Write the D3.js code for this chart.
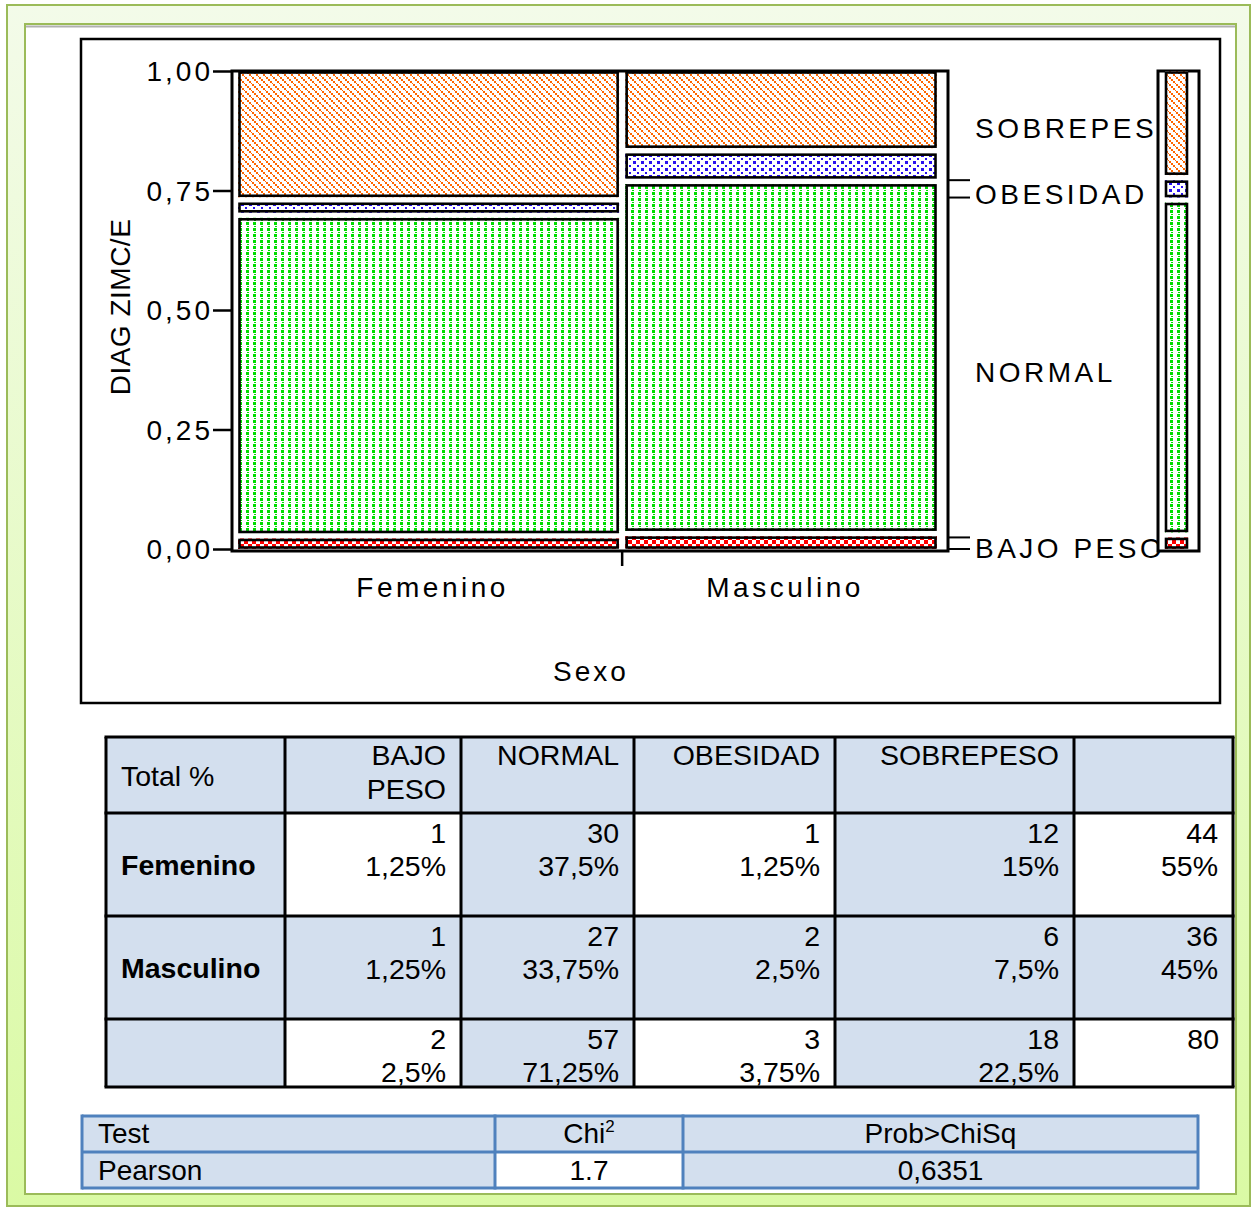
<!DOCTYPE html>
<html>
<head>
<meta charset="utf-8">
<script src="https://cdn.jsdelivr.net/npm/d3@7"></script>
<style>
  html, body { margin: 0; padding: 0; background: #fff; }
  svg { display: block; font-family: "Liberation Sans", Arial, sans-serif; }
</style>
</head>
<body>
<div id="chart"></div>
<script>
// ── datos ───────────────────────────────────────────────────────────────
const sexos        = ['Femenino', 'Masculino'];
const diagnosticos = ['BAJO PESO', 'NORMAL', 'OBESIDAD', 'SOBREPESO'];
const conteosFemenino  = [1, 30, 1, 12];
const conteosMasculino = [1, 27, 2, 6];
const yTickValues = [0, 0.25, 0.5, 0.75, 1];
const yTickLabels = ['0,00', '0,25', '0,50', '0,75', '1,00'];
const tests       = ['Pearson'];
const chiCuadrado = ['1.7'];
const probChiSq   = ['0,6351'];

const conteos = [conteosFemenino, conteosMasculino];
const totalesSexo = conteos.map(c => d3.sum(c));
const totalesDiag = diagnosticos.map((d, i) => conteos[0][i] + conteos[1][i]);
const granTotal = d3.sum(totalesSexo);
const pct = v => (Math.round(v / granTotal * 10000) / 100).toString().replace('.', ',') + '%';

const width = 1254, height = 1209;

// ── svg ─────────────────────────────────────────────────────────────────
const svg = d3.select('#chart').append('svg')
  .attr('width', width).attr('height', height)
  .attr('viewBox', [0, 0, width, height]);

const defs = svg.append('defs');

const grad = defs.append('linearGradient').attr('id', 'bg').attr('x1', 0).attr('y1', 0).attr('x2', 0).attr('y2', 1);
grad.append('stop').attr('offset', '0%').attr('stop-color', '#f3fbe9');
grad.append('stop').attr('offset', '100%').attr('stop-color', '#dafaa4');

// patrones de relleno (cuadritos, estilo mapa de bits)
function pattern(id, w, h, color, rects) {
  const p = defs.append('pattern').attr('id', id)
    .attr('patternUnits', 'userSpaceOnUse').attr('width', w).attr('height', h);
  p.append('rect').attr('width', w).attr('height', h).attr('fill', '#fff');
  rects.forEach(r => p.append('rect')
    .attr('x', r[0]).attr('y', r[1]).attr('width', r[2]).attr('height', r[3])
    .attr('fill', color).attr('shape-rendering', 'crispEdges'));
}
// diagonal "\" en escalones de 2px, separación 7px
pattern('p-sobrepeso', 7, 7, '#ff6600', [[0, 0, 2, 2], [2, 2, 2, 2], [4, 4, 2, 2], [6, 6, 1, 1]]);
pattern('p-obesidad', 8, 7, '#2a10f0', [[1, 0, 3, 3], [5, 4, 2, 2]]);
pattern('p-normal', 7, 6, '#00dd00', [[1, 0, 3, 3], [2, 4, 2, 1]]);
pattern('p-bajo', 8, 8, '#ff0000', [[0, 0, 4, 4], [4, 4, 4, 4]]);
const patternId = { 'BAJO PESO': 'p-bajo', 'NORMAL': 'p-normal', 'OBESIDAD': 'p-obesidad', 'SOBREPESO': 'p-sobrepeso' };

// fondo y marcos
svg.append('rect').attr('x', 7).attr('y', 5).attr('width', 1243).attr('height', 1201)
  .attr('fill', 'url(#bg)').attr('stroke', '#9bbb59').attr('stroke-width', 2);
svg.append('rect').attr('x', 25).attr('y', 24).attr('width', 1211).attr('height', 1170)
  .attr('fill', '#fff').attr('stroke', '#9bbb59').attr('stroke-width', 2);
svg.append('line').attr('x1', 26).attr('x2', 1235).attr('y1', 26.5).attr('y2', 26.5)
  .attr('stroke', '#b0b0b0').attr('stroke-width', 2);

svg.append('rect').attr('x', 81).attr('y', 39).attr('width', 1139).attr('height', 664)
  .attr('fill', '#fff').attr('stroke', '#000').attr('stroke-width', 2.5);

// ── mosaico ─────────────────────────────────────────────────────────────
const plotLeft = 232, plotRight = 948, plotTop = 71, plotBottom = 551;
const y = d3.scaleLinear().domain([0, 1]).range([549, 71]);
const gapY = 5, gapX = 6;
const avail = d3.scaleLinear().domain([0, 1]).range([0, (y(0) - y(1)) - 3 * gapY]);
const x = d3.scaleLinear().domain([0, 1]).range([238, 937 - gapX]);

function stackSegments(counts) {
  const tot = d3.sum(counts);
  let cum = 0;
  return counts.map((c, i) => {
    const f = c / tot;
    const y1 = y(0) - avail(cum) - i * gapY;
    const y0 = y1 - avail(f);
    cum += f;
    return { diag: diagnosticos[i], y0, y1 };
  });
}

const mosaic = svg.append('g').attr('id', 'mosaico');
let cumX = 0;
sexos.forEach((s, si) => {
  const share = totalesSexo[si] / granTotal;
  const x0 = x(cumX) + si * gapX, x1 = x(cumX + share) + si * gapX;
  cumX += share;
  const segs = stackSegments(conteos[si]);
  const g = mosaic.append('g').attr('data-sexo', s);
  g.selectAll('rect.fill').data(segs).join('rect').attr('class', 'fill')
    .attr('x', x0).attr('y', d => d.y0).attr('width', x1 - x0).attr('height', d => d.y1 - d.y0)
    .attr('fill', d => `url(#${patternId[d.diag]})`);
  g.selectAll('rect.edge').data(segs).join('rect').attr('class', 'edge')
    .attr('x', x0 + 1.5).attr('y', d => d.y0 + 1.5).attr('width', x1 - x0 - 3).attr('height', d => Math.max(0, d.y1 - d.y0 - 3))
    .attr('fill', 'none').attr('stroke', '#000').attr('stroke-width', 2.6);
  g.append('text').attr('x', (x0 + x1) / 2 + 4).attr('y', 597).attr('text-anchor', 'middle')
    .attr('font-size', 28).attr('letter-spacing', 3.5).text(s);
});

// marco del área y ejes
svg.append('rect').attr('x', plotLeft).attr('y', plotTop).attr('width', plotRight - plotLeft).attr('height', plotBottom - plotTop)
  .attr('fill', 'none').attr('stroke', '#000').attr('stroke-width', 3);

const yAxis = svg.append('g').attr('transform', `translate(${plotLeft},0)`)
  .call(d3.axisLeft(y).tickValues(yTickValues).tickFormat((d, i) => yTickLabels[i]).tickSize(19).tickPadding(0));
yAxis.select('.domain').remove();
yAxis.selectAll('line').attr('stroke', '#000').attr('stroke-width', 2.5);
yAxis.selectAll('text').attr('font-size', 28).attr('letter-spacing', 3).attr('fill', '#000')
  .attr('font-family', '"Liberation Sans", Arial, sans-serif').attr('dy', '0.34em');

svg.append('line').attr('x1', x(totalesSexo[0] / granTotal) + gapX / 2).attr('x2', x(totalesSexo[0] / granTotal) + gapX / 2)
  .attr('y1', plotBottom).attr('y2', 566).attr('stroke', '#000').attr('stroke-width', 2.5);

svg.append('text').attr('x', 591).attr('y', 681).attr('text-anchor', 'middle')
  .attr('font-size', 28).attr('letter-spacing', 3).text('Sexo');
svg.append('text').attr('transform', 'translate(130,307) rotate(-90)').attr('text-anchor', 'middle')
  .attr('font-size', 28).attr('letter-spacing', 0.5).text('DIAG ZIMC/E');

// etiquetas y barra marginal
const marg = stackSegments(totalesDiag);
const legend = svg.append('g').attr('id', 'etiquetas');
marg.forEach(d => {
  const cy = (d.y0 + d.y1) / 2 + 5;
  legend.append('text').attr('x', 975).attr('y', cy + 10).attr('font-size', 28).attr('letter-spacing', 3.5).text(d.diag);
  if (d.y1 - d.y0 < 25) {
    [d.y0, d.y1].forEach(yy => legend.append('line')
      .attr('x1', plotRight).attr('x2', 970).attr('y1', yy).attr('y2', yy)
      .attr('stroke', '#000').attr('stroke-width', 2));
  }
});

const bar = svg.append('g').attr('id', 'marginal');
bar.append('rect').attr('x', 1158).attr('y', 71).attr('width', 41).attr('height', 480)
  .attr('fill', '#fff').attr('stroke', '#000').attr('stroke-width', 3);
bar.selectAll('rect.fill').data(marg).join('rect').attr('class', 'fill')
  .attr('x', 1165).attr('y', d => d.y0).attr('width', 23).attr('height', d => d.y1 - d.y0)
  .attr('fill', d => `url(#${patternId[d.diag]})`);
bar.selectAll('rect.edge').data(marg).join('rect').attr('class', 'edge')
  .attr('x', 1166).attr('y', d => d.y0 + 1.5).attr('width', 21).attr('height', d => Math.max(0, d.y1 - d.y0 - 3))
  .attr('fill', 'none').attr('stroke', '#000').attr('stroke-width', 2.6);

// ── tabla de contingencia ───────────────────────────────────────────────
const blue = '#d3dfee';
const colX = [106, 285, 461, 634, 835, 1074, 1233];
const rowY = [737, 813, 916, 1019, 1087];
const fills = [
  [1, 1, 1, 1, 1, 1],
  [1, 0, 1, 0, 1, 0],
  [1, 1, 1, 1, 1, 1],
  [1, 0, 1, 0, 1, 0]
];
const tabla = svg.append('g').attr('id', 'tabla').attr('font-size', 28.5);
fills.forEach((row, r) => row.forEach((f, c) => {
  tabla.append('rect').attr('x', colX[c]).attr('y', rowY[r])
    .attr('width', colX[c + 1] - colX[c]).attr('height', rowY[r + 1] - rowY[r])
    .attr('fill', f ? blue : '#fff');
}));
colX.forEach(xx => tabla.append('line').attr('x1', xx).attr('x2', xx).attr('y1', rowY[0]).attr('y2', rowY[4])
  .attr('stroke', '#000').attr('stroke-width', 3));
rowY.forEach(yy => tabla.append('line').attr('x1', colX[0] - 1.5).attr('x2', colX[6] + 1.5).attr('y1', yy).attr('y2', yy)
  .attr('stroke', '#000').attr('stroke-width', 3));

const rightPad = 15;
tabla.append('text').attr('x', 121).attr('y', 786).text('Total %');
diagnosticos.forEach((d, i) => {
  const lines = d === 'BAJO PESO' ? ['BAJO', 'PESO'] : [d];
  lines.forEach((t, k) => tabla.append('text').attr('x', colX[i + 2] - rightPad).attr('y', 765 + k * 34)
    .attr('text-anchor', 'end').text(t));
});
sexos.forEach((s, si) => {
  const top = rowY[si + 1];
  tabla.append('text').attr('x', 121).attr('y', (top + rowY[si + 2]) / 2 + 10).attr('font-weight', 'bold').text(s);
  const vals = conteos[si].concat([totalesSexo[si]]);
  vals.forEach((v, i) => {
    tabla.append('text').attr('x', colX[i + 2] - rightPad).attr('y', top + 30).attr('text-anchor', 'end').text(v);
    tabla.append('text').attr('x', colX[i + 2] - rightPad).attr('y', top + 63).attr('text-anchor', 'end').text(pct(v));
  });
});
totalesDiag.forEach((v, i) => {
  tabla.append('text').attr('x', colX[i + 2] - rightPad).attr('y', rowY[3] + 30).attr('text-anchor', 'end').text(v);
  tabla.append('text').attr('x', colX[i + 2] - rightPad).attr('y', rowY[3] + 63).attr('text-anchor', 'end').text(pct(v));
});
tabla.append('text').attr('x', colX[6] - rightPad + 1).attr('y', rowY[3] + 30).attr('text-anchor', 'end').text(granTotal);

// ── prueba chi cuadrado ─────────────────────────────────────────────────
const tX = [82, 495, 683, 1198];
const tY = [1116, 1152, 1188];
const prueba = svg.append('g').attr('id', 'prueba').attr('font-size', 28);
[[1, 1, 1], [1, 0, 1]].forEach((row, r) => row.forEach((f, c) => {
  prueba.append('rect').attr('x', tX[c]).attr('y', tY[r]).attr('width', tX[c + 1] - tX[c]).attr('height', tY[r + 1] - tY[r])
    .attr('fill', f ? blue : '#fff');
}));
tX.forEach(xx => prueba.append('line').attr('x1', xx).attr('x2', xx).attr('y1', tY[0] - 1.5).attr('y2', tY[2] + 1.5)
  .attr('stroke', '#4f81bd').attr('stroke-width', 3));
tY.forEach(yy => prueba.append('line').attr('x1', tX[0]).attr('x2', tX[3]).attr('y1', yy).attr('y2', yy)
  .attr('stroke', '#4f81bd').attr('stroke-width', 3));

prueba.append('text').attr('x', 98).attr('y', 1143).text('Test');
const chiHead = prueba.append('text').attr('x', (tX[1] + tX[2]) / 2).attr('y', 1143).attr('text-anchor', 'middle');
chiHead.append('tspan').text('Chi');
chiHead.append('tspan').attr('font-size', 17).attr('dy', -11).text('2');
prueba.append('text').attr('x', (tX[2] + tX[3]) / 2).attr('y', 1143).attr('text-anchor', 'middle').text('Prob>ChiSq');
tests.forEach((t, i) => {
  const by = 1180 + i * 36;
  prueba.append('text').attr('x', 98).attr('y', by).text(t);
  prueba.append('text').attr('x', (tX[1] + tX[2]) / 2).attr('y', by).attr('text-anchor', 'middle').text(chiCuadrado[i]);
  prueba.append('text').attr('x', (tX[2] + tX[3]) / 2).attr('y', by).attr('text-anchor', 'middle').text(probChiSq[i]);
});
</script>
</body>
</html>
